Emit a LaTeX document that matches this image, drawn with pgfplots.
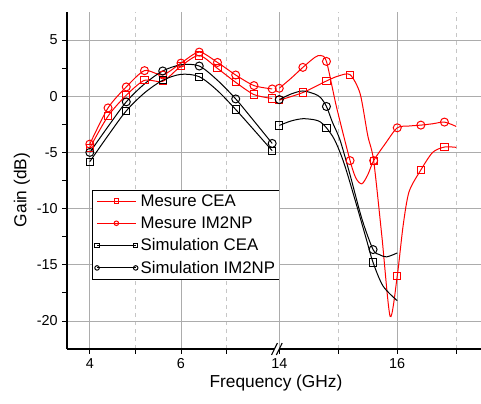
\documentclass[border=0pt]{standalone}
\usepackage{pgfplots}
\pgfplotsset{compat=1.18}
\usepackage{fontspec}
\setmainfont{Liberation Sans}

% 1 px of the reference = 0.75pt
\pgfplotsset{
  brk/.style={
    scale only axis, height=252.75pt,
    ymin=-22.5, ymax=7.5,
    axis x line*=bottom, axis y line*=left,
    axis line style={-, black, line width=0.8pt},
    tick align=outside, major tick length=3.5pt, minor tick length=3.5pt,
    tick style={black, line width=0.6pt},
    xmajorgrids, xminorgrids, ymajorgrids,
    major grid style={gray!65, line width=0.6pt},
    minor grid style={gray!45, dashed, line width=0.4pt},
    ytick={-20,-15,...,5}, minor y tick num=1,
    /pgf/number format/assume math mode=true,
    ticklabel style={font=\fontsize{10.8}{12}\selectfont},
  },
  mcea/.style={red, line width=0.75pt, smooth, tension=0.45, mark=square,
    mark size=2.7pt, mark options={solid, fill=white}},
  mim/.style={red, line width=0.75pt, smooth, tension=0.45, mark=o,
    mark size=3pt, mark options={solid, fill=white}},
  scea/.style={black, line width=0.75pt, smooth, tension=0.5, mark=square,
    mark size=2.7pt, mark options={solid, fill=white}},
  sim/.style={black, line width=0.75pt, smooth, tension=0.5, mark=o,
    mark size=3pt, mark options={solid, fill=white}},
}

\begin{document}
\begin{tikzpicture}
\path[use as bounding box] (-50.25pt,-40.5pt) rectangle (310.5pt,261.75pt);

% grid continued across the break
\foreach \v in {-20,-15,...,5}
  \draw[gray!65, line width=0.6pt] (155.6pt,{(\v+22.5)*8.425pt}) -- (159.2pt,{(\v+22.5)*8.425pt});

\begin{axis}[brk, width=155.6pt, at={(0pt,0pt)}, anchor=south west,
  xmin=3.5, xmax=8.05,
  xtick={4,6}, minor xtick={5,7},
  legend cell align=left,
  legend style={at={(0.122,0.472)}, anchor=north west, draw=black,
    line width=0.7pt, fill=white, font=\fontsize{12.6}{14}\selectfont,
    inner xsep=1.5pt, inner ysep=1pt, row sep=2.2pt},
  legend image code/.code={\draw[mark repeat=2, mark phase=2, #1, mark size=1.7pt]
    plot coordinates {(0pt,0pt) (14.5pt,0pt) (29pt,0pt)};},
]
\addplot[mcea] coordinates {
  (4.0,-4.6) (4.4,-1.77) (4.8,0.09) (5.2,1.42) (5.6,1.33) (6.0,2.69)
  (6.4,3.63) (6.8,2.48) (7.2,1.24) (7.6,0.15) (8.0,-0.2)};
\addlegendentry{Mesure CEA}
\addplot[mim] coordinates {
  (4.0,-4.26) (4.4,-1.04) (4.8,0.83) (5.2,2.28) (5.6,1.9) (6.0,2.95)
  (6.4,3.93) (6.8,3.01) (7.2,1.89) (7.6,0.95) (8.0,0.65)};
\addlegendentry{Mesure IM2NP}
\addplot[scea, mark indices={1,3,5,7,9,11}] coordinates {
  (4.0,-5.82) (4.4,-3.5) (4.8,-1.3) (5.2,0.3) (5.6,1.42) (6.0,1.95)
  (6.4,1.74) (6.8,0.5) (7.2,-1.18) (7.6,-3.0) (8.0,-4.85)};
\addlegendentry{Simulation CEA}
\addplot[sim, mark indices={1,3,5,7,9,11}] coordinates {
  (4.0,-5.0) (4.4,-2.7) (4.8,-0.5) (5.2,1.1) (5.6,2.25) (6.0,2.8)
  (6.4,2.69) (6.8,1.42) (7.2,-0.24) (7.6,-2.2) (8.0,-4.2)};
\addlegendentry{Simulation IM2NP}
\end{axis}

\begin{axis}[brk, width=151.3pt, at={(159.2pt,0pt)}, anchor=south west,
  xmin=14, xmax=17.42,
  xtick={14,16}, minor xtick={15,17},
  y axis line style={draw=none}, ytick style={draw=none}, yticklabels={},
]
\addplot[mcea, mark indices={1,2,3,5,8,11,14,16}] coordinates {
  (14.0,-0.35) (14.4,0.33) (14.8,1.36) (15.0,1.8) (15.2,1.92) (15.37,0.24)
  (15.5,-3.5) (15.6,-5.73) (15.74,-12.5) (15.88,-19.6) (16.0,-16.0)
  (16.1,-11.5) (16.2,-8.5) (16.4,-6.56) (16.6,-5.0) (16.8,-4.52) (17.0,-4.55)};
\addplot[mim, mark indices={1,3,6,8,12,14,16,18}] coordinates {
  (14.0,0.71) (14.2,1.6) (14.4,2.57) (14.6,3.45) (14.7,3.63) (14.8,3.1)
  (14.97,-0.95) (15.2,-5.73) (15.3,-7.3) (15.4,-7.8) (15.5,-7.0) (15.6,-5.73)
  (15.8,-4.2) (16.0,-2.81) (16.2,-2.65) (16.4,-2.57) (16.6,-2.45) (16.8,-2.3)
  (17.0,-2.69)};
\addplot[scea, mark indices={1,6,11}] coordinates {
  (14.0,-2.6) (14.2,-2.2) (14.4,-2.0) (14.6,-2.1) (14.7,-2.3) (14.8,-2.81)
  (14.94,-3.9) (15.1,-6.0) (15.3,-9.5) (15.48,-12.8) (15.59,-14.8)
  (15.76,-16.9) (16.0,-18.2)};
\addplot[sim, mark indices={1,6,11}] coordinates {
  (14.0,-0.3) (14.2,0.2) (14.4,0.47) (14.6,0.2) (14.7,-0.12) (14.8,-0.91)
  (14.9,-2.3) (15.03,-3.9) (15.2,-7.0) (15.4,-10.9) (15.59,-13.65)
  (15.7,-14.1) (15.82,-14.3) (16.0,-13.95)};
\end{axis}

% break marks on the frequency axis
\draw[black, line width=0.8pt] (153.4pt,-4.5pt) -- (157.8pt,4.5pt);
\draw[black, line width=0.8pt] (157.0pt,-4.5pt) -- (161.4pt,4.5pt);

\node[font=\fontsize{13}{15}\selectfont] at (156.75pt,-25.5pt) {Frequency (GHz)};
\node[font=\fontsize{13}{15}\selectfont, rotate=90] at (-33.75pt,119.25pt) {Gain (dB)};
\end{tikzpicture}
\end{document}
